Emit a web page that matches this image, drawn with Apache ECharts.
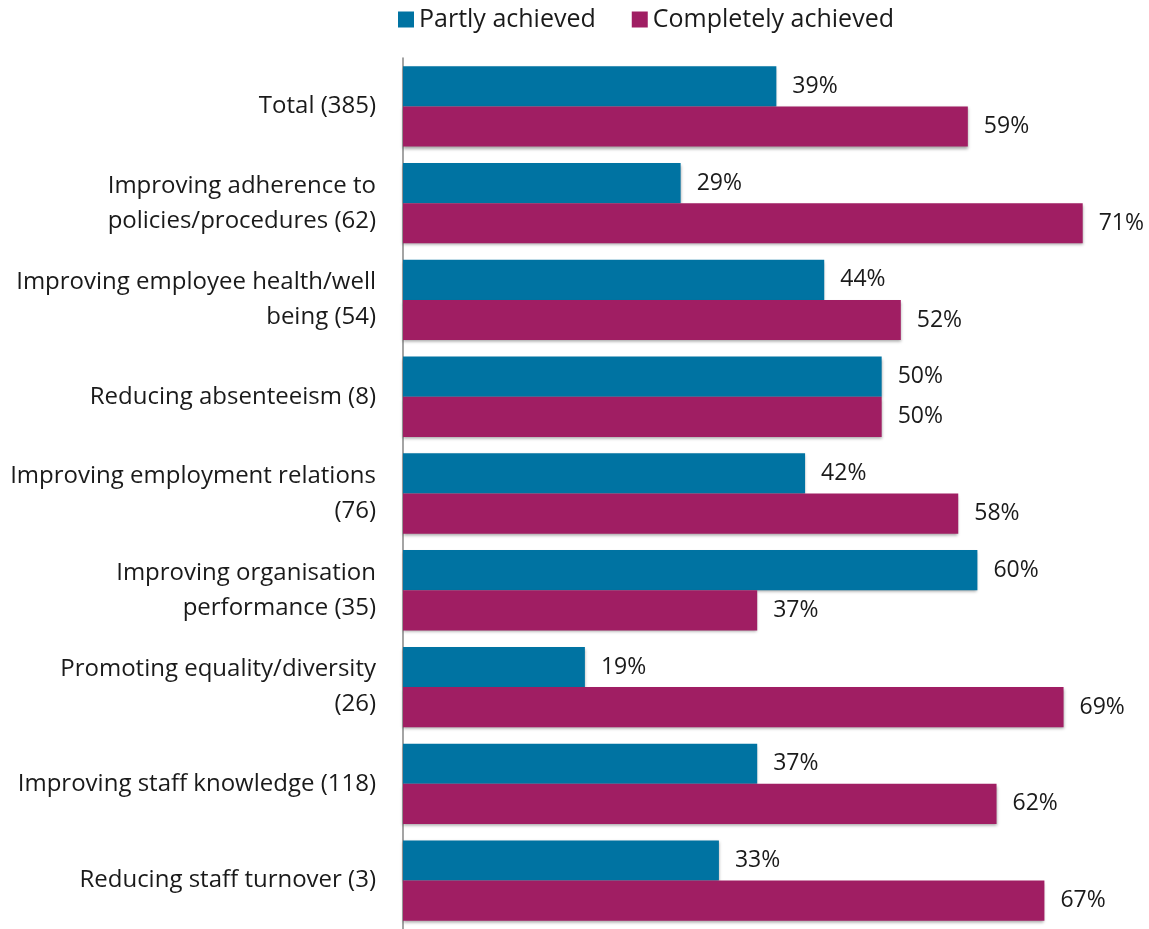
<!DOCTYPE html>
<html>
<head>
<meta charset="utf-8">
<script src="https://cdn.jsdelivr.net/npm/echarts@6/dist/echarts.min.js"></script>
<style>
  html, body { margin: 0; padding: 0; background: #fff; }
  #chart { width: 1149px; height: 929px; }
</style>
</head>
<body>
<div id="chart"></div>
<script>
// Objectives and how far they were achieved (% of respondents, base in brackets)
const categories = [
  'Total (385)',
  'Improving adherence to\npolicies/procedures (62)',
  'Improving employee health/well\nbeing (54)',
  'Reducing absenteeism (8)',
  'Improving employment relations\n(76)',
  'Improving organisation\nperformance (35)',
  'Promoting equality/diversity\n(26)',
  'Improving staff knowledge (118)',
  'Reducing staff turnover (3)'
];
const partlyAchieved     = [39, 29, 44, 50, 42, 60, 19, 37, 33];
const completelyAchieved = [59, 71, 52, 50, 58, 37, 69, 62, 67];
const seriesNames = ['Partly achieved', 'Completely achieved'];

const FONT = '"Open Sans", Lato, sans-serif';
const barShadow = { shadowColor: 'rgba(0,0,0,0.35)', shadowBlur: 3, shadowOffsetY: 2 };
const valueLabel = {
  show: true, position: 'right', distance: 16, padding: [5, 0, 0, 0],
  formatter: '{c}%', fontSize: 23, color: '#1a1a1a', fontFamily: FONT
};

const chart = echarts.init(document.getElementById('chart'), null, { renderer: 'canvas' });
chart.setOption({
  animation: false,
  textStyle: { fontFamily: FONT },
  legend: {
    top: 2,
    left: 393,
    itemWidth: 16,
    itemHeight: 16,
    itemGap: 36,
    icon: 'rect',
    textStyle: { fontSize: 25, color: '#1a1a1a', fontFamily: FONT },
    data: seriesNames
  },
  grid: { left: 403, right: 28, top: 58, bottom: 0, containLabel: false },
  xAxis: {
    type: 'value',
    min: 0,
    max: 75,
    show: false
  },
  yAxis: {
    type: 'category',
    inverse: true,
    data: categories,
    axisLine: { show: true, lineStyle: { color: '#868686', width: 1.5 } },
    axisTick: { show: false },
    axisLabel: {
      margin: 27,
      fontSize: 24,
      lineHeight: 35,
      padding: [6, 0, 0, 0],
      color: '#1a1a1a',
      align: 'right',
      fontFamily: FONT
    }
  },
  series: [
    {
      name: seriesNames[0],
      type: 'bar',
      data: partlyAchieved,
      barGap: '0%',
      barCategoryGap: '17%',
      itemStyle: Object.assign({ color: '#0073A2' }, barShadow),
      label: valueLabel
    },
    {
      name: seriesNames[1],
      type: 'bar',
      data: completelyAchieved,
      barGap: '0%',
      barCategoryGap: '17%',
      itemStyle: Object.assign({ color: '#A01E63' }, barShadow),
      label: valueLabel
    }
  ]
});
</script>
</body>
</html>
